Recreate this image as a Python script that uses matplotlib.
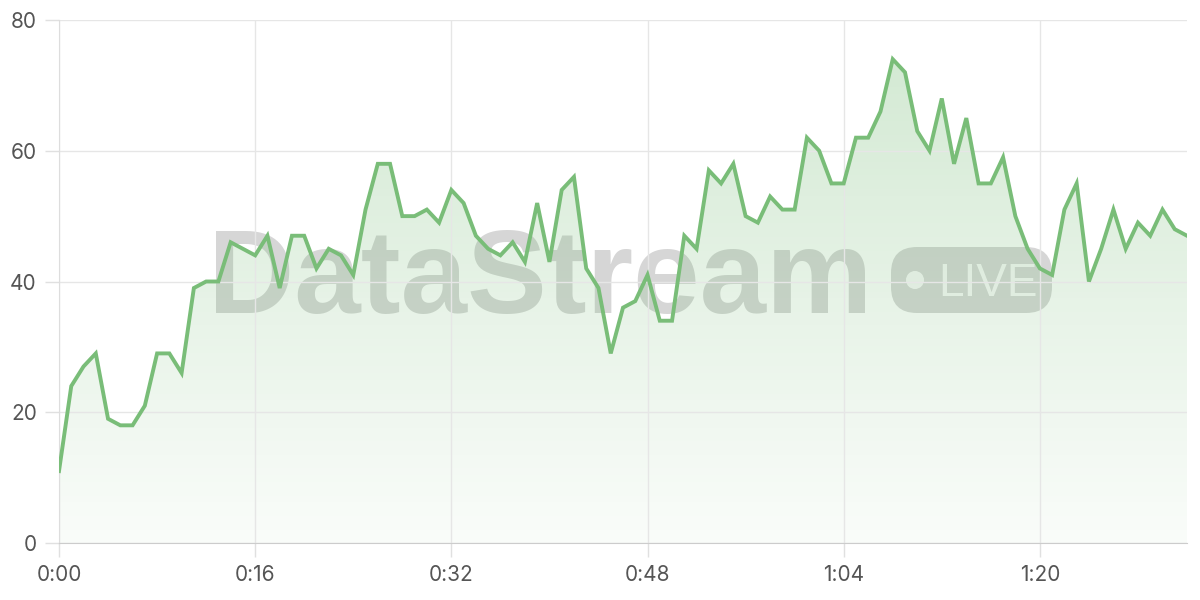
import numpy as np
import matplotlib.pyplot as plt
from matplotlib.patches import FancyBboxPatch, Circle
from matplotlib.ticker import FuncFormatter

plt.rcParams['font.family'] = ['Inter', 'DejaVu Sans']

# sekunde od pocetka i vrijednosti
values = [11, 24, 27, 29, 19, 18, 18, 21, 29, 29,
          26, 39, 40, 40, 46, 45, 44, 47, 39, 47,
          47, 42, 45, 44, 41, 51, 58, 58, 50, 50,
          51, 49, 54, 52, 47, 45, 44, 46, 43, 52,
          43, 54, 56, 42, 39, 29, 36, 37, 41, 34,
          34, 47, 45, 57, 55, 58, 50, 49, 53, 51,
          51, 62, 60, 55, 55, 62, 62, 66, 74, 72,
          63, 60, 68, 58, 65, 55, 55, 59, 50, 45,
          42, 41, 51, 55, 40, 45, 51, 45, 49, 47,
          51, 48, 47]
seconds = np.arange(len(values))
x_ticks = [0, 16, 32, 48, 64, 80]
y_ticks = [0, 20, 40, 60, 80]

line_color = '#79bd78'

fig = plt.figure(figsize=(12, 6), dpi=100)

# pozadina s vodenim zigom (u pikselima)
bg = fig.add_axes([0, 0, 1, 1], zorder=0)
bg.set_xlim(0, 1200)
bg.set_ylim(600, 0)
bg.axis('off')
bg.text(540, 313, 'DataStream', fontsize=86, fontweight='bold',
        family='Liberation Sans', color='black', alpha=0.16,
        ha='center', va='baseline')
bg.add_patch(FancyBboxPatch((891, 247), 161, 66,
                            boxstyle='round,pad=0,rounding_size=26',
                            facecolor='black', alpha=0.16, edgecolor='none'))
bg.add_patch(Circle((915, 280), 9, facecolor='white', alpha=0.85,
                    edgecolor='none'))
bg.text(938, 296, 'LIVE', fontsize=33, family='Liberation Sans',
        color='white', alpha=0.85, ha='left', va='baseline')

ax = fig.add_axes([59 / 1200, 1 - 543 / 600, 1128 / 1200, 523 / 600], zorder=1)
ax.set_facecolor('none')
ax.set_xlim(0, seconds[-1])
ax.set_ylim(0, 80)

# gradijent ispod linije
grad = np.zeros((256, 1, 4))
grad[:, 0, 0] = 0.47
grad[:, 0, 1] = 0.74
grad[:, 0, 2] = 0.47
grad[:, 0, 3] = np.linspace(0.04, 0.34, 256)
img = ax.imshow(grad, aspect='auto', extent=[0, seconds[-1], 0, 80],
                origin='lower', zorder=1)
poly = ax.fill_between(seconds, values, 0, color='none')
img.set_clip_path(poly.get_paths()[0], transform=ax.transData)

ax.plot(seconds, values, color=line_color, lw=2.8, zorder=3,
        solid_joinstyle='miter')

ax.set_xticks(x_ticks)
ax.set_yticks(y_ticks)
ax.xaxis.set_major_formatter(FuncFormatter(lambda v, p: '%d:%02d' % (v // 60, v % 60)))
ax.grid(True, color='#e6e6e6', lw=1, zorder=0)
ax.tick_params(colors='#e0e0e0', labelcolor='#555555', labelsize=15,
               length=10, width=1, pad=6)
for s in ['top', 'right']:
    ax.spines[s].set_visible(False)
ax.spines['bottom'].set_color('#cccccc')
ax.spines['left'].set_color('#dddddd')

fig.savefig('out.png', dpi=100)
